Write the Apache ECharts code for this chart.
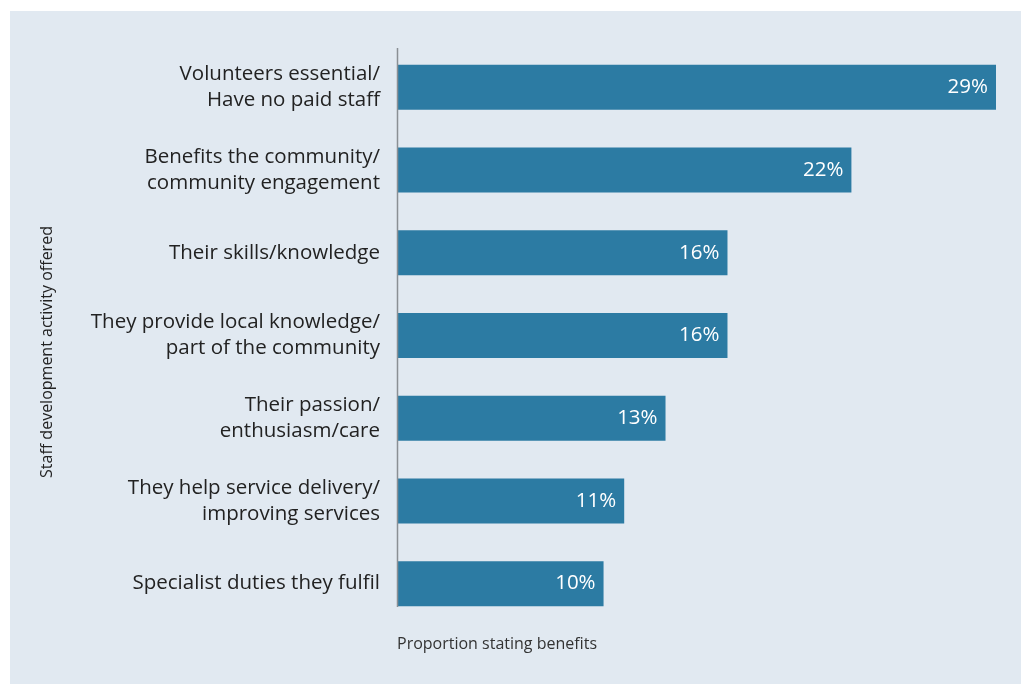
<!DOCTYPE html>
<html>
<head>
<meta charset="utf-8">
<script src="https://cdn.jsdelivr.net/npm/echarts@6/dist/echarts.min.js"></script>
<style>
  html, body { margin: 0; padding: 0; background: #ffffff; }
  #panel { position: absolute; left: 10px; top: 11px; width: 1011px; height: 673px; background: #e1e9f1; }
  #chart { position: absolute; left: 0; top: 0; width: 1021px; height: 684px; }
</style>
</head>
<body>
<div id="panel"></div>
<div id="chart"></div>
<script>
// Reasons given for the benefits of volunteers (share of respondents, %)
const categories = [
  'Volunteers essential/\nHave no paid staff',
  'Benefits the community/\ncommunity engagement',
  'Their skills/knowledge',
  'They provide local knowledge/\npart of the community',
  'Their passion/\nenthusiasm/care',
  'They help service delivery/\nimproving services',
  'Specialist duties they fulfil'
];
const values = [29, 22, 16, 16, 13, 11, 10];
const xAxisTitle = 'Proportion stating benefits';
const yAxisTitle = 'Staff development activity offered';

const FONT = '"Open Sans", "Noto Sans", sans-serif';
const chart = echarts.init(document.getElementById('chart'), null, { renderer: 'canvas' });

const gridLeft = 397, gridTop = 46, gridWidth = 599, gridHeight = 579;

chart.setOption({
  backgroundColor: 'transparent',
  animation: false,
  grid: { left: gridLeft, top: gridTop, width: gridWidth, height: gridHeight, containLabel: false },
  xAxis: {
    type: 'value',
    min: 0,
    max: 29,
    show: false
  },
  yAxis: {
    type: 'category',
    data: categories,
    inverse: true,
    axisLine: { show: false },
    axisTick: { show: false },
    splitLine: { show: false },
    axisLabel: {
      color: '#222222',
      fontFamily: FONT,
      fontSize: 20.5,
      lineHeight: 26,
      margin: 17,
      align: 'right'
    }
  },
  graphic: [
    {
      type: 'line',
      shape: { x1: gridLeft + 0.5, y1: 48, x2: gridLeft + 0.5, y2: 607 },
      style: { stroke: '#8a8f94', lineWidth: 1.5 },
      z: 10
    },
    {
      type: 'text',
      left: gridLeft,
      top: 636,
      style: { text: xAxisTitle, fill: '#333333', font: '16px ' + FONT }
    },
    {
      type: 'text',
      rotation: Math.PI / 2,
      x: 39,
      y: 352,
      style: { text: yAxisTitle, fill: '#222222', font: '16px ' + FONT, align: 'center', verticalAlign: 'top' }
    }
  ],
  series: [{
    type: 'bar',
    data: values,
    barWidth: 45,
    itemStyle: { color: '#2c7ba3' },
    label: {
      show: true,
      position: 'insideRight',
      distance: 8,
      formatter: '{c}%',
      color: '#ffffff',
      fontFamily: FONT,
      fontSize: 20.5
    }
  }]
});
</script>
</body>
</html>
